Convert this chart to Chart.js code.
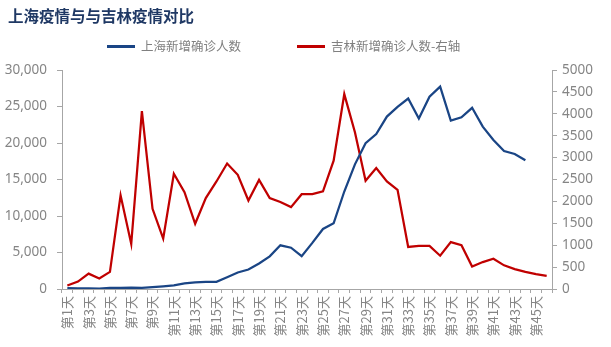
<!DOCTYPE html>
<html>
<head>
<meta charset="utf-8">
<script src="https://cdn.jsdelivr.net/npm/chart.js@4.4.0/dist/chart.umd.min.js"></script>
<style>
  html, body { margin: 0; padding: 0; background: #fff; }
  #wrap { position: relative; width: 611px; height: 347px; }
  #titulo { position: absolute; left: 8px; top: 4px; font: bold 15.5px "Noto Sans CJK SC", sans-serif; color: #1F3864; }
  .leg { position: absolute; top: 36px; font: 12.5px "Noto Sans CJK SC", sans-serif; color: #808080; white-space: nowrap; }
  .leg span { display: inline-block; width: 28px; height: 2.5px; vertical-align: middle; margin-right: 6px; position: relative; top: -1px; }
</style>
</head>
<body>
<div id="wrap">
  <div id="titulo">上海疫情与与吉林疫情对比</div>
  <div class="leg" style="left:107px"><span style="background:#1A4585"></span>上海新增确诊人数</div>
  <div class="leg" style="left:297px"><span style="background:#C00000"></span>吉林新增确诊人数-右轴</div>
  <canvas id="grafico" width="611" height="347"></canvas>
</div>
<script>
// categorias (dias)
const dias = ['第1天','第2天','第3天','第4天','第5天','第6天','第7天','第8天','第9天','第10天',
  '第11天','第12天','第13天','第14天','第15天','第16天','第17天','第18天','第19天','第20天',
  '第21天','第22天','第23天','第24天','第25天','第26天','第27天','第28天','第29天','第30天',
  '第31天','第32天','第33天','第34天','第35天','第36天','第37天','第38天','第39天','第40天',
  '第41天','第42天','第43天','第44天','第45天','第46天'];

// 上海新增确诊人数 (eixo esquerdo)
const shanghai = [120, 75, 83, 65, 169, 139, 202, 158, 260, 374,
  509, 758, 896, 981, 983, 1609, 2269, 2676, 3500, 4477,
  5982, 5653, 4502, 6311, 8226, 9006, 13354, 17077, 19982, 21222,
  23624, 24943, 26087, 23342, 26330, 27719, 23072, 23513, 24820, 22248,
  20416, 18901, 18495, 17629];

// 吉林新增确诊人数 (eixo direito)
const jilin = [80, 170, 350, 240, 390, 2140, 1030, 4060, 1830, 1150,
  2630, 2210, 1490, 2075, 2455, 2865, 2607, 2020, 2490, 2075,
  1985, 1870, 2165, 2165, 2230, 2930, 4450, 3580, 2470, 2760,
  2455, 2265, 960, 985, 985, 760, 1070, 1000, 515, 615,
  690, 540, 455, 390, 340, 300];

const cinza = '#A6A6A6';
const corTexto = '#858585';
const fonteNum = { family: '"Noto Sans", sans-serif', size: 13.5 };

const ctx = document.getElementById('grafico').getContext('2d');
new Chart(ctx, {
  type: 'line',
  data: {
    labels: dias,
    datasets: [
      {
        label: '上海新增确诊人数',
        data: shanghai,
        borderColor: '#1A4585',
        borderWidth: 2.25,
        pointRadius: 0,
        tension: 0,
        yAxisID: 'y'
      },
      {
        label: '吉林新增确诊人数-右轴',
        data: jilin,
        borderColor: '#C00000',
        borderWidth: 2.25,
        pointRadius: 0,
        tension: 0,
        yAxisID: 'y1'
      }
    ]
  },
  options: {
    responsive: false,
    animation: false,
    layout: { padding: { top: 70, left: 0, right: 0, bottom: 0 } },
    plugins: {
      legend: { display: false },
      title: { display: false },
      tooltip: { enabled: false }
    },
    scales: {
      x: {
        offset: true,
        grid: { offset: true, drawOnChartArea: false, drawTicks: true, tickLength: 4, color: cinza },
        border: { display: true, color: cinza },
        ticks: {
          autoSkip: false,
          minRotation: 90,
          maxRotation: 90,
          padding: 3,
          color: corTexto,
          font: { family: '"Noto Sans CJK SC", sans-serif', size: 13 },
          callback: function (val, idx) {
            return idx % 2 === 0 ? this.getLabelForValue(val) : '';
          }
        },
        afterFit: function (scale) { scale.height = 58; }
      },
      y: {
        position: 'left',
        min: 0,
        max: 30000,
        grid: { drawOnChartArea: false, drawTicks: true, tickLength: 5, color: cinza },
        border: { display: true, color: cinza },
        ticks: {
          stepSize: 5000,
          padding: 10,
          color: corTexto,
          font: fonteNum,
          callback: v => v.toLocaleString('en-US')
        },
        afterFit: function (scale) { scale.width = 62; }
      },
      y1: {
        position: 'right',
        min: 0,
        max: 5000,
        grid: { drawOnChartArea: false, drawTicks: true, tickLength: 5, color: cinza },
        border: { display: true, color: cinza },
        ticks: {
          stepSize: 500,
          padding: 5,
          color: corTexto,
          font: fonteNum,
          callback: v => String(v)
        },
        afterFit: function (scale) { scale.width = 59; }
      }
    }
  }
});
</script>
</body>
</html>
